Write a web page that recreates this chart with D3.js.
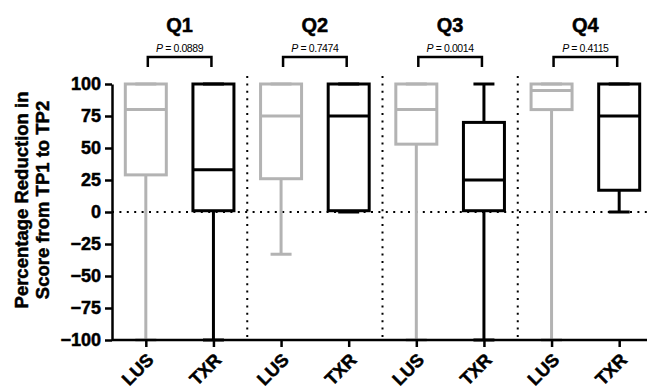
<!DOCTYPE html>
<html>
<head>
<meta charset="utf-8">
<script src="https://cdn.jsdelivr.net/npm/d3@7"></script>
<style>
  body { margin: 0; background: #fff; }
  svg { font-family: "Liberation Sans", Arial, Helvetica, sans-serif; }
  .heavy { stroke: #000; stroke-width: 0.5px; }
</style>
</head>
<body>
<div id="chart"></div>
<script>
// data
const quarters = ["Q1", "Q2", "Q3", "Q4"];
const pValues = ["0.0889", "0.7474", "0.0014", "0.4115"];
const groups = ["LUS", "TXR"];
// one entry per box, in order Q1 LUS, Q1 TXR, Q2 LUS, ...
const mins    = [-100, -100, -33, 0, -100, -100, -100, 0];
const lowerQ  = [29, 1, 26, 1, 53, 1, 80, 17];
const medians = [80, 33, 75, 75, 80, 25, 95, 75];
const upperQ  = [100, 100, 100, 100, 100, 70, 100, 100];
const maxs    = [100, 100, 100, 100, 100, 100, 100, 100];
const yTicks = [100, 75, 50, 25, 0, -25, -50, -75, -100];

const boxes = mins.map((m, i) => ({
  idx: i,
  quarter: quarters[Math.floor(i / 2)],
  group: groups[i % 2],
  min: m, q1: lowerQ[i], median: medians[i], q3: upperQ[i], max: maxs[i]
}));

const width = 647, height = 390;
const colors = { LUS: "#b3b3b3", TXR: "#000" };

const svg = d3.select("#chart").append("svg")
  .attr("width", width)
  .attr("height", height);

const x = d3.scalePoint()
  .domain(boxes.map(d => d.idx))
  .range([112, 653])
  .padding(0.5);

const y = d3.scaleLinear()
  .domain([-100, 100])
  .range([340, 84]);

// dotted zero line
svg.append("line")
  .attr("x1", 112).attr("x2", width)
  .attr("y1", y(0)).attr("y2", y(0))
  .attr("stroke", "#000")
  .attr("stroke-width", 2)
  .attr("stroke-dasharray", "2,5.4");

// dotted dividers between quarters
[1, 2, 3].forEach(q => {
  const xm = (x(q * 2 - 1) + x(q * 2)) / 2;
  svg.append("line")
    .attr("x1", xm).attr("x2", xm)
    .attr("y1", 76).attr("y2", y(-100))
    .attr("stroke", "#000")
    .attr("stroke-width", 2)
    .attr("stroke-dasharray", "2,5.4");
});

// boxes
const boxW = 41, capW = 21;
const g = svg.selectAll(".box")
  .data(boxes)
  .enter()
  .append("g")
  .attr("class", "box")
  .attr("stroke", d => colors[d.group])
  .attr("stroke-width", 3)
  .attr("fill", "none");

g.append("line")
  .attr("x1", d => x(d.idx)).attr("x2", d => x(d.idx))
  .attr("y1", d => y(d.min)).attr("y2", d => y(d.q1));
g.append("line")
  .attr("x1", d => x(d.idx)).attr("x2", d => x(d.idx))
  .attr("y1", d => y(d.q3)).attr("y2", d => y(d.max));
g.append("line")
  .attr("x1", d => x(d.idx) - capW / 2).attr("x2", d => x(d.idx) + capW / 2)
  .attr("y1", d => y(d.min)).attr("y2", d => y(d.min));
g.append("line")
  .attr("x1", d => x(d.idx) - capW / 2).attr("x2", d => x(d.idx) + capW / 2)
  .attr("y1", d => y(d.max)).attr("y2", d => y(d.max));
g.append("rect")
  .attr("x", d => x(d.idx) - boxW / 2)
  .attr("width", boxW)
  .attr("y", d => y(d.q3))
  .attr("height", d => y(d.q1) - y(d.q3));
g.append("line")
  .attr("x1", d => x(d.idx) - boxW / 2).attr("x2", d => x(d.idx) + boxW / 2)
  .attr("y1", d => y(d.median)).attr("y2", d => y(d.median));

// Y axis
const yAxis = svg.append("g")
  .attr("transform", "translate(112,0)")
  .call(d3.axisLeft(y).tickValues(yTicks).tickSize(7).tickSizeOuter(0).tickPadding(4));
yAxis.selectAll("path, line").attr("stroke", "#000").attr("stroke-width", 2.5);
yAxis.selectAll("text")
  .attr("class", "heavy")
  .attr("fill", "#000")
  .style("font-size", "18px")
  .style("font-weight", "bold");

// X axis
const xAxis = svg.append("g")
  .attr("transform", `translate(0,${y(-100)})`)
  .call(d3.axisBottom(x).tickSize(7).tickSizeOuter(0).tickFormat(""));
xAxis.selectAll("path, line").attr("stroke", "#000").attr("stroke-width", 2.5);
xAxis.select(".domain").attr("d", `M112,0H${width}`);

svg.selectAll(".xlabel")
  .data(boxes)
  .enter()
  .append("text")
  .attr("class", "xlabel heavy")
  .attr("text-anchor", "end")
  .attr("transform", d => `translate(${x(d.idx) + 9},${y(-100) + 21}) rotate(-45)`)
  .style("font-size", "18px")
  .style("font-weight", "bold")
  .text(d => d.group);

// Y axis label
const yLabel = svg.append("text")
  .attr("class", "heavy")
  .attr("text-anchor", "middle")
  .attr("transform", "translate(0,200) rotate(-90)")
  .style("font-size", "18.5px")
  .style("font-weight", "bold");
yLabel.append("tspan").attr("x", 0).attr("y", 28).text("Percentage Reduction in");
yLabel.append("tspan").attr("x", 0).attr("y", 49).text("Score from TP1 to TP2");

// quarter titles, p-values, brackets
quarters.forEach((q, i) => {
  const x1 = x(i * 2), x2 = x(i * 2 + 1);
  const xm = (x1 + x2) / 2;
  svg.append("text")
    .attr("class", "heavy")
    .attr("x", xm).attr("y", 32)
    .attr("text-anchor", "middle")
    .style("font-size", "20px")
    .style("font-weight", "bold")
    .text(q);
  const pt = svg.append("text")
    .attr("x", xm).attr("y", 52)
    .attr("text-anchor", "middle")
    .style("font-size", "10.5px")
    .attr("letter-spacing", "-0.4");
  pt.append("tspan").style("font-style", "italic").text("P");
  pt.append("tspan").text(" = " + pValues[i]);
  svg.append("path")
    .attr("d", `M${x1 + 2},67V57H${x2 - 2}V67`)
    .attr("fill", "none")
    .attr("stroke", "#000")
    .attr("stroke-width", 2.5);
});
</script>
</body>
</html>
